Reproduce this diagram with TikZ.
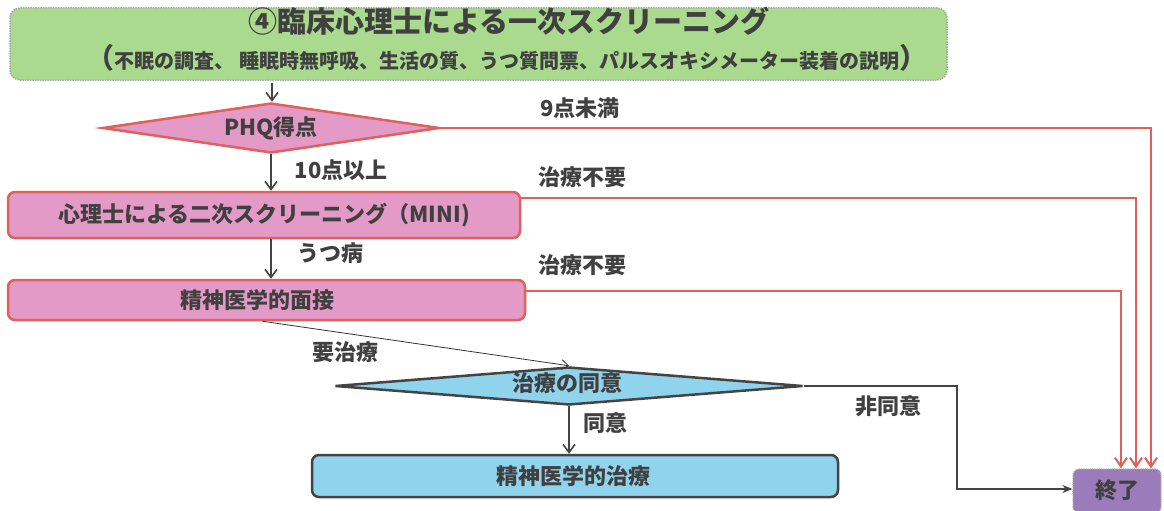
\documentclass[tikz,border=0pt]{standalone}
\usepackage{fontspec}
\setmainfont{Noto Sans CJK JP}
\usetikzlibrary{arrows.meta,shapes.geometric,calc}
\definecolor{txt}{HTML}{404040}
\definecolor{gfill}{HTML}{A9DA8E}
\definecolor{pfill}{HTML}{E39AC6}
\definecolor{pline}{HTML}{E0605C}
\definecolor{bfill}{HTML}{8FD3EC}
\definecolor{dline}{HTML}{444444}
\definecolor{vfill}{HTML}{9B7BBA}
\tikzset{
  every node/.style={text=txt, font=\fontsize{22}{24}\selectfont\bfseries},
  pinkbox/.style={draw=pline, fill=pfill, line width=2.5pt, rounded corners=7pt, inner sep=0pt},
  bluebox/.style={draw=dline, fill=bfill, line width=2.5pt, rounded corners=7pt, inner sep=0pt},
  pinkdia/.style={diamond, aspect=7, draw=pline, fill=pfill, line width=2.5pt, inner sep=0pt},
  bluedia/.style={diamond, aspect=12, draw=dline, fill=bfill, line width=2.5pt, inner sep=0pt},
  redline/.style={draw=pline, line width=2pt, -{Straight Barb[length=9pt,width=12pt,line width=2pt]}},
  darrow/.style={draw=dline, line width=1.6pt, -{Straight Barb[length=8pt,width=12pt,line width=1.6pt]}},
  lbl/.style={inner sep=0pt},
}
\begin{document}
\begin{tikzpicture}[x=1pt,y=-1pt]
\useasboundingbox (0,0) rectangle (1164,511);
% top box
\node[draw=gray!70, densely dotted, fill=gfill, line width=1.5pt, rounded corners=10pt, minimum width=937pt, minimum height=72pt, inner sep=0pt] (top) at (478.5,44) {};
\node[font=\fontsize{29}{31}\selectfont\bfseries] (title) at (509,21) {④臨床心理士による一次スクリーニング};
\node[font=\fontsize{20}{22}\selectfont\bfseries] (sub) at (507,58) {{\fontsize{28}{30}\selectfont（}不眠の調査、\ 睡眠時無呼吸、生活の質、うつ質問票、パルスオキシメーター装着の説明{\fontsize{28}{30}\selectfont）}};
% PHQ diamond
\node[pinkdia, minimum width=337pt, minimum height=50pt] (phq) at (271,128) {PHQ得点};
% box 2
\node[pinkbox, minimum width=512pt, minimum height=46pt] (scr) at (264,215) {心理士による二次スクリーニング（MINI)};
% box 3
\node[pinkbox, minimum width=517pt, minimum height=40pt] (int) at (266.5,300) {};
\node (intt) at (257,300) {精神医学的面接};
% blue diamond
\node[bluedia, minimum width=468pt, minimum height=38pt] (agr) at (569,386) {};
\node (agrt) at (567,383) {治療の同意};
% blue box
\node[bluebox, minimum width=526pt, minimum height=42pt] (tre) at (575,476) {};
\node (tret) at (573,476) {精神医学的治療};
% end box
\node[draw=gray!60, densely dotted, fill=vfill, line width=1.2pt, rounded corners=6pt, minimum width=88pt, minimum height=44pt, inner sep=0pt] (end) at (1117,491) {};
\node (endt) at (1117,490) {終了};
% coordinates
\coordinate (r1) at (1151,128);
\coordinate (r2) at (1136,198);
\coordinate (r3) at (1121,291);
\coordinate (nb) at (957,489);
\coordinate (ts) at (272,83);
% connectors
\draw[darrow] (ts) -- (ts |- phq.north);
\draw[darrow] (phq.south) -- (phq.south |- scr.north);
\draw[darrow] (phq.south |- scr.south) -- (phq.south |- int.north);
\draw[redline] (phq.east) -- (r1) -- (r1 |- end.north);
\draw[redline] (scr.east |- r2) -- (r2) -- (r2 |- end.north);
\draw[redline] (int.east |- r3) -- (r3) -- (r3 |- end.north);
\draw[draw=black!80, line width=0.8pt, -{Straight Barb[length=7pt,width=10pt]}] ($(int.south)+(-4,0)$) -- (agr.north);
\draw[darrow] (agr.south) -- (agr.south |- tre.north);
\draw[draw=dline, line width=1.2pt, -{Stealth[length=10pt,width=8pt]}] (agr.east) -| (nb) -- (nb -| end.west);
% labels
\node[lbl] (l1) at (580,108) {9点未満};
\node[lbl] (l2) at (341,170) {10点以上};
\node[lbl] (l3) at (582,177) {治療不要};
\node[lbl] (l4) at (330,253) {うつ病};
\node[lbl] (l5) at (582,265) {治療不要};
\node[lbl] (l6) at (345,352) {要治療};
\node[lbl] (l7) at (605,423) {同意};
\node[lbl] (l8) at (888,406) {非同意};
\end{tikzpicture}
\end{document}
